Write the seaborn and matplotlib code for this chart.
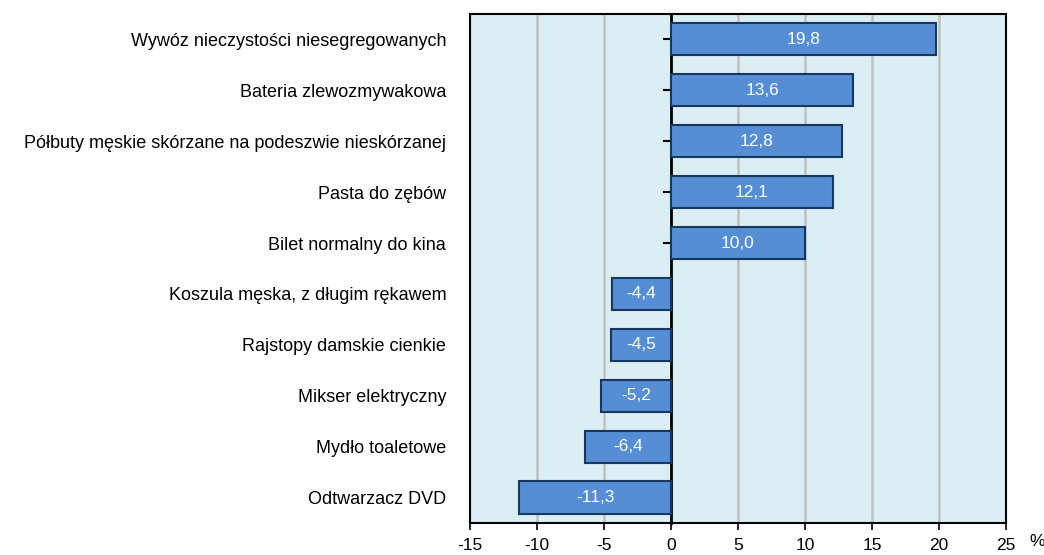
import numpy as np
import pandas as pd
import seaborn as sns
import matplotlib.pyplot as plt

products = [
    "Wywóz nieczystości niesegregowanych",
    "Bateria zlewozmywakowa",
    "Półbuty męskie skórzane na podeszwie nieskórzanej",
    "Pasta do zębów",
    "Bilet normalny do kina",
    "Koszula męska, z długim rękawem",
    "Rajstopy damskie cienkie",
    "Mikser elektryczny",
    "Mydło toaletowe",
    "Odtwarzacz DVD",
]
changes = [19.8, 13.6, 12.8, 12.1, 10.0, -4.4, -4.5, -5.2, -6.4, -11.3]
x_ticks = [-15, -10, -5, 0, 5, 10, 15, 20, 25]

df = pd.DataFrame({"produkt": products, "zmiana": changes})

sns.set_style("white")
plt.rcParams["font.family"] = ["Liberation Sans", "DejaVu Sans"]
plt.rcParams["text.color"] = "black"
plt.rcParams["xtick.labelcolor"] = "black"
plt.rcParams["ytick.labelcolor"] = "black"

fig, ax = plt.subplots(figsize=(10.44, 5.55), dpi=100)
fig.subplots_adjust(left=0.450, right=0.9636, top=0.9748, bottom=0.0577)
ax.set_facecolor("#DAEEF3")

sns.barplot(data=df, x="zmiana", y="produkt", orient="h", color="#558ED5",
            saturation=1, width=0.63, edgecolor="#17375E", linewidth=1.5, ax=ax)

ax.bar_label(ax.containers[0], labels=[f"{v:.1f}".replace(".", ",") for v in changes],
             label_type="center", color="white", fontsize=12.5)

ax.set_xlim(x_ticks[0], x_ticks[-1])
ax.set_xticks(x_ticks)
ax.set_xticklabels([str(t) for t in x_ticks], fontsize=12.5)
ax.set_xlabel("")
ax.set_ylabel("")
ax.tick_params(axis="x", direction="out", length=5, width=1.2, color="black",
               labelcolor="black", pad=6, bottom=True)
ax.tick_params(axis="y", length=0, pad=17, labelsize=13, labelcolor="black")

for t in x_ticks[1:-1]:
    if t != 0:
        ax.axvline(t, color="#C0C0C0", linewidth=1.8, zorder=0)

for s in ax.spines.values():
    s.set_color("black")
    s.set_linewidth(1.5)

# oś zerowa z kreskami
zero = ax.secondary_yaxis((0 - x_ticks[0]) / (x_ticks[-1] - x_ticks[0]))
zero.set_yticks(range(len(products)))
zero.set_yticklabels([""] * len(products))
zero.tick_params(direction="out", length=6, width=1.5, color="black")
zero.spines["left"].set_linewidth(2)
zero.spines["left"].set_color("black")

ax.text(1.058, -0.037, "%", transform=ax.transAxes, fontsize=12.5, color="black",
        ha="center", va="center")

plt.savefig("out.png", dpi=100)
